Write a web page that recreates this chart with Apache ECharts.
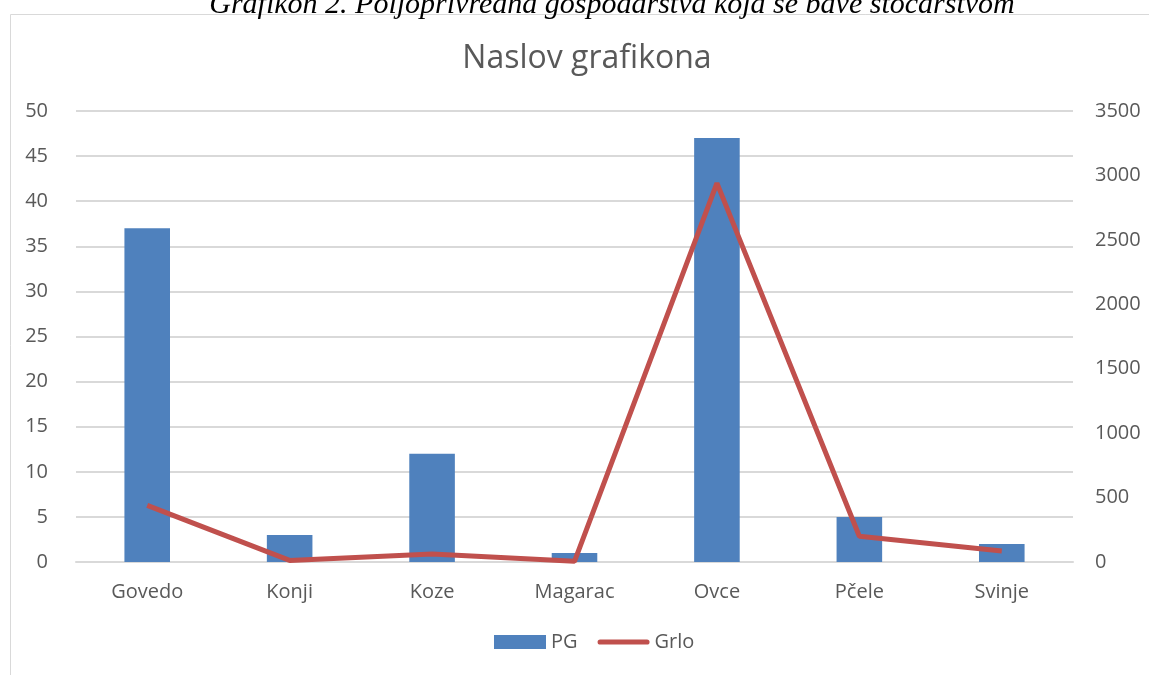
<!DOCTYPE html>
<html>
<head>
<meta charset="utf-8">
<script src="https://cdn.jsdelivr.net/npm/echarts@6/dist/echarts.min.js"></script>
<style>
  html, body { margin: 0; padding: 0; background: #fff; }
  #chart { width: 1149px; height: 675px; }
</style>
</head>
<body>
<div id="chart"></div>
<script>
// kategorije i vrijednosti
var categories = ['Govedo', 'Konji', 'Koze', 'Magarac', 'Ovce', 'Pčele', 'Svinje'];
var pgData = [37, 3, 12, 1, 47, 5, 2];
var grloData = [440, 12, 62, 5, 2940, 200, 85];

var textColor = '#595959';
var fontFam = '"Open Sans", "Noto Sans", sans-serif';

var chart = echarts.init(document.getElementById('chart'));
var option = {
  animation: false,
  title: {
    text: 'Naslov grafikona',
    left: 582,
    textAlign: 'center',
    top: 38,
    textStyle: { color: textColor, fontSize: 32, fontWeight: 'normal', fontFamily: fontFam }
  },
  graphic: [
    {
      type: 'rect',
      shape: { x: 10.5, y: 14.5, width: 1200, height: 700 },
      style: { fill: 'none', stroke: '#d9d9d9', lineWidth: 1 },
      silent: true
    },
    {
      type: 'text',
      x: 612,
      y: -10,
      style: {
        text: 'Grafikon 2. Poljoprivredna gospodarstva koja se bave stočarstvom',
        fill: '#000',
        align: 'center',
        font: 'italic 30px "Liberation Serif", serif'
      }
    }
  ],
  legend: {
    bottom: 18,
    left: 489,
    itemGap: 20,
    itemWidth: 52,
    itemHeight: 14,
    textStyle: { color: textColor, fontSize: 20, fontFamily: fontFam },
    data: [
      { name: 'PG', icon: 'rect' },
      { name: 'Grlo', icon: 'path://M2.5,0 L47.5,0 A2.5,2.5 0 0 1 47.5,5 L2.5,5 A2.5,2.5 0 0 1 2.5,0 Z' }
    ]
  },
  grid: {
    left: 76,
    right: 76,
    top: 111,
    bottom: 113,
    containLabel: false
  },
  xAxis: {
    type: 'category',
    data: categories,
    axisTick: { show: false },
    axisLine: { show: true, lineStyle: { color: '#d9d9d9', width: 2 } },
    axisLabel: { color: textColor, fontSize: 20, fontFamily: fontFam, margin: 20 }
  },
  yAxis: [
    {
      type: 'value',
      min: 0,
      max: 50,
      interval: 5,
      axisLine: { show: false },
      axisTick: { show: false },
      axisLabel: { color: textColor, fontSize: 20, fontFamily: fontFam, margin: 28 },
      splitLine: { lineStyle: { color: '#d9d9d9', width: 2 } }
    },
    {
      type: 'value',
      min: 0,
      max: 3500,
      interval: 500,
      axisLine: { show: false },
      axisTick: { show: false },
      axisLabel: {
        color: textColor, fontSize: 20, fontFamily: fontFam, margin: 22,
        formatter: function (v) { return String(v); }
      },
      splitLine: { show: false }
    }
  ],
  series: [
    {
      name: 'PG',
      type: 'bar',
      data: pgData,
      barWidth: '32%',
      itemStyle: { color: '#4F81BD' }
    },
    {
      name: 'Grlo',
      type: 'line',
      yAxisIndex: 1,
      data: grloData,
      symbol: 'none',
      lineStyle: { color: '#C0504D', width: 5 },
      itemStyle: { color: '#C0504D' }
    }
  ]
};
chart.setOption(option);
window.addEventListener('resize', function () { chart.resize(); });
</script>
</body>
</html>
